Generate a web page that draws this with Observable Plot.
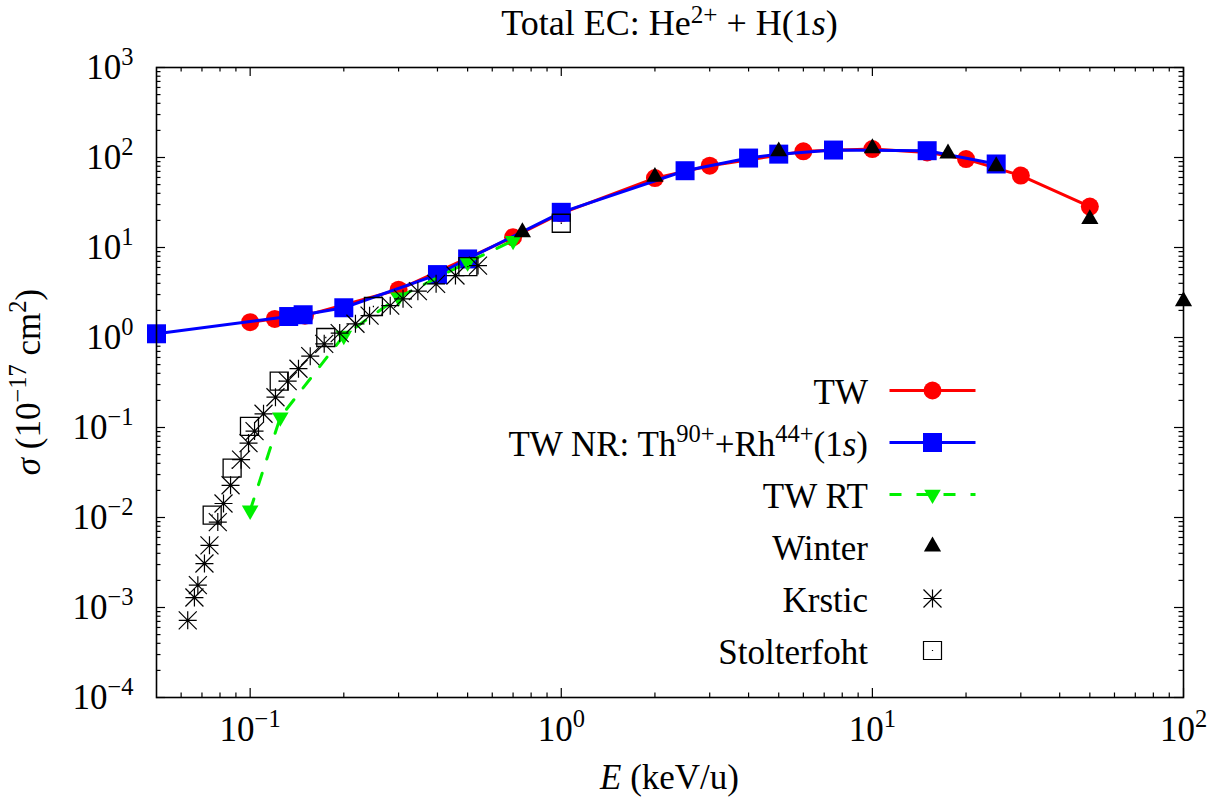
<!DOCTYPE html>
<html><head><meta charset="utf-8">
<script src="https://cdn.jsdelivr.net/npm/d3@7"></script>
<script src="https://cdn.jsdelivr.net/npm/@observablehq/plot@0.6"></script>
<style>body{margin:0;background:#fff}</style>
</head><body><div id="chart"></div>
<script>
// ---- data ----
const twE = [0.1,0.12,0.15,0.3,0.7,1,2,3,6,10,15,20,30,50];
const twS = [1.48,1.61,1.75,3.4,13.0,24,59,81,117,124,114,96,63,28.5];
const nrE = [0.05,0.133,0.148,0.2,0.4,0.5,1,2.5,4,5,7.5,15,25];
const nrS = [1.1,1.71,1.79,2.14,5.0,7.46,24.6,71.3,98.6,109,121,119,84.7];
const rtE = [0.1,0.125,0.2,0.3,0.5,0.7];
const rtS = [0.012,0.13,1.05,2.8,6.86,11.9];
const winE = [0.75,2,5,10,17.5,25,50,100];
const winS = [14.8,61,117,127,111,80,20.7,2.53];
const krE = [0.063,0.0662,0.0679,0.0713,0.074,0.0787,0.0821,0.0865,0.0935,0.0988,0.1033,0.1104,0.1206,0.132,0.143,0.156,0.173,0.194,0.218,0.242,0.282,0.31,0.346,0.396,0.457,0.54];
const krS = [0.00072,0.00129,0.00177,0.00308,0.00491,0.0089,0.0143,0.0228,0.0439,0.0671,0.0912,0.142,0.217,0.327,0.45,0.62,0.85,1.12,1.42,1.75,2.26,2.69,3.27,3.95,4.88,6.3];
const stE = [0.0755,0.0875,0.0995,0.124,0.175,0.249,0.501,1.0];
const stS = [0.0106,0.0354,0.103,0.327,1.0,2.21,6.14,18.6];

const xMajor = [0.1, 1, 10, 100];
const yMajor = [1e-4, 1e-3, 1e-2, 1e-1, 1, 10, 100, 1000];
const minorMult = [2,3,4,5,6,7,8,9];

// ---- layout ----
const W = 1221, H = 802, mL = 156, mR = 38, mT = 67, mB = 105;
const pW = W - mL - mR, pH = H - mT - mB;
const FS = 35;
const FONT = "'Liberation Serif', 'DejaVu Serif', serif";

const zip = (a, b) => a.map((e, i) => ({E: e, s: b[i]}));
const tw = zip(twE, twS), nr = zip(nrE, nrS), rt = zip(rtE, rtS),
      win = zip(winE, winS), kr = zip(krE, krS), st = zip(stE, stS);

const xMinor = [], yMinor = [];
for (const d of [0.01, 0.1, 1, 10]) for (const m of minorMult) { const v = +(d*m).toPrecision(3); if (v > 0.05 && v < 100) xMinor.push(v); }
for (const d of yMajor.slice(0, -1)) for (const m of minorMult) yMinor.push(+(d*m).toPrecision(3));

// ---- custom symbols ----
const rad = size => Math.sqrt(size / Math.PI);
const symTriUp = {draw(c, s){const r = rad(s); c.moveTo(0,-r*1.15); c.lineTo(r,r*0.58); c.lineTo(-r,r*0.58); c.closePath();}};
const symTriDown = {draw(c, s){const r = rad(s); c.moveTo(0,r*1.15); c.lineTo(r,-r*0.58); c.lineTo(-r,-r*0.58); c.closePath();}};
const symSquare = {draw(c, s){const r = rad(s); c.rect(-r,-r,2*r,2*r);}};
const symOpenSq = {draw(c, s){const r = rad(s); c.rect(-r,-r,2*r,2*r); c.moveTo(-0.6,0); c.lineTo(0.6,0);}};
const symAst = {draw(c, s){const r = rad(s);
  c.moveTo(-r,0); c.lineTo(r,0); c.moveTo(0,-r); c.lineTo(0,r);
  c.moveTo(-r,-r); c.lineTo(r,r); c.moveTo(-r,r); c.lineTo(r,-r);}};
const symCircle = {draw(c, s){const r = rad(s); c.moveTo(r,0); c.arc(0,0,r,0,2*Math.PI);}};

const RED = "#ff0000", BLUE = "#0000ff", GREEN = "#00f000";

const expFmt = d => { const k = Math.round(Math.log10(d)); return "10^" + (k < 0 ? "\u2212" + (-k) : k); };

const chart = Plot.plot({
  width: W, height: H, marginLeft: mL, marginRight: mR, marginTop: mT, marginBottom: mB,
  x: {type: "log", domain: [0.05, 100]},
  y: {type: "log", domain: [1e-4, 1e3]},
  style: {fontFamily: FONT, fontSize: FS + "px", background: "white", color: "black", overflow: "visible"},
  marks: [
    Plot.axisX({ticks: xMajor, tickSize: 0, tickPadding: 19, tickFormat: expFmt, label: null, fontSize: FS}),
    Plot.axisY({ticks: yMajor, tickSize: 0, tickPadding: 23, tickFormat: expFmt, label: null, fontSize: FS}),
    // inward ticks on all four sides
    Plot.ruleX(xMajor, {x: d => d, insetTop: pH - 9, strokeWidth: 1.2}),
    Plot.ruleX(xMajor, {x: d => d, insetBottom: pH - 9, strokeWidth: 1.2}),
    Plot.ruleX(xMinor, {x: d => d, insetTop: pH - 4.5, strokeWidth: 1.2}),
    Plot.ruleX(xMinor, {x: d => d, insetBottom: pH - 4.5, strokeWidth: 1.2}),
    Plot.ruleY(yMajor, {y: d => d, insetRight: pW - 9, strokeWidth: 1.2}),
    Plot.ruleY(yMajor, {y: d => d, insetLeft: pW - 9, strokeWidth: 1.2}),
    Plot.ruleY(yMinor, {y: d => d, insetRight: pW - 4.5, strokeWidth: 1.2}),
    Plot.ruleY(yMinor, {y: d => d, insetLeft: pW - 4.5, strokeWidth: 1.2}),
    // TW
    Plot.line(tw, {x: "E", y: "s", stroke: RED, strokeWidth: 3}),
    Plot.dot(tw, {x: "E", y: "s", symbol: symCircle, r: 9, fill: RED, stroke: "none"}),
    // TW NR
    Plot.line(nr, {x: "E", y: "s", stroke: BLUE, strokeWidth: 3}),
    Plot.dot(nr, {x: "E", y: "s", symbol: symSquare, r: 9.5, fill: BLUE, stroke: "none"}),
    // TW RT
    Plot.line(rt, {x: "E", y: "s", stroke: GREEN, strokeWidth: 3, strokeDasharray: "12,15"}),
    Plot.dot(rt, {x: "E", y: "s", symbol: symTriDown, r: 8.3, fill: GREEN, stroke: "none"}),
    // Winter
    Plot.dot(win, {x: "E", y: "s", symbol: symTriUp, r: 8.6, fill: "black", stroke: "none"}),
    // Krstic
    Plot.dot(kr, {x: "E", y: "s", symbol: symAst, r: 9, fill: "none", stroke: "black", strokeWidth: 1.2}),
    // Stolterfoht
    Plot.dot(st, {x: "E", y: "s", symbol: symOpenSq, r: 9, fill: "none", stroke: "black", strokeWidth: 1.3}),
    Plot.frame({stroke: "black", strokeWidth: 1.6})
  ]
});

document.getElementById("chart").appendChild(chart);
const svg = d3.select(chart);

// rich-text helper: parts = [[text, kind]], kind: "sup" | "it" | undefined
function rich(sel, parts, fs, raise = 0.4) {
  let raised = false;
  for (const [txt, kind] of parts) {
    const t = sel.append("tspan").text(txt);
    if (kind === "sup") {
      t.attr("font-size", fs * 0.7).attr("dy", raised ? 0 : -raise * fs);
      raised = true;
    } else {
      if (raised) t.attr("dy", raise * fs);
      raised = false;
      if (kind === "it") t.attr("font-style", "italic");
    }
  }
}

// superscript exponents on tick labels
chart.querySelectorAll('[aria-label$="tick label"] text').forEach(node => {
  const m = /^10\^(.*)$/.exec(node.textContent);
  if (!m) return;
  node.textContent = "";
  rich(d3.select(node), [["10"], [m[1], "sup"]], FS);
});

// title
rich(svg.append("text").attr("x", mL + pW / 2).attr("y", 35).attr("text-anchor", "middle")
  .attr("font-family", FONT).attr("font-size", 36),
  [["Total EC: He"], ["2+", "sup"], [" + H(1"], ["s", "it"], [")"]], 36, 0.33);

// x label
rich(svg.append("text").attr("x", mL + pW / 2).attr("y", 789).attr("text-anchor", "middle")
  .attr("font-family", FONT).attr("font-size", FS),
  [["E", "it"], [" (keV/u)"]], FS);

// y label
rich(svg.append("text").attr("transform", `translate(40,${mT + pH / 2}) rotate(-90)`).attr("text-anchor", "middle")
  .attr("font-family", FONT).attr("font-size", FS),
  [["σ", "it"], [" (10"], ["\u221217", "sup"], [" cm"], ["2", "sup"], [")"]], FS);

// legend
const legend = [
  {parts: [["TW"]], color: RED, line: true, sym: symCircle, r: 9},
  {parts: [["TW NR: Th"], ["90+", "sup"], ["+Rh"], ["44+", "sup"], ["(1"], ["s", "it"], [")"]], color: BLUE, line: true, sym: symSquare, r: 9.5},
  {parts: [["TW RT"]], color: GREEN, line: true, dash: "12,15", sym: symTriDown, r: 8.3},
  {parts: [["Winter"]], color: "black", sym: symTriUp, r: 8.6},
  {parts: [["Krstic"]], color: "black", sym: symAst, r: 9, open: true},
  {parts: [["Stolterfoht"]], color: "black", sym: symOpenSq, r: 9, open: true}
];
const lg = svg.append("g").attr("aria-label", "legend");
legend.forEach((e, i) => {
  const y = 390.5 + i * 52;
  rich(lg.append("text").attr("x", 868).attr("y", y + 13).attr("text-anchor", "end")
    .attr("font-family", FONT).attr("font-size", FS), e.parts, FS);
  if (e.line) lg.append("line").attr("x1", 889.5).attr("x2", 975.5).attr("y1", y).attr("y2", y)
    .attr("stroke", e.color).attr("stroke-width", 3).attr("stroke-dasharray", e.dash || null);
  const p = d3.path(); e.sym.draw(p, Math.PI * e.r * e.r);
  lg.append("path").attr("d", p.toString()).attr("transform", `translate(932.5,${y})`)
    .attr("fill", e.open ? "none" : e.color).attr("stroke", e.open ? "black" : "none").attr("stroke-width", 1.2);
});
</script>
</body></html>
